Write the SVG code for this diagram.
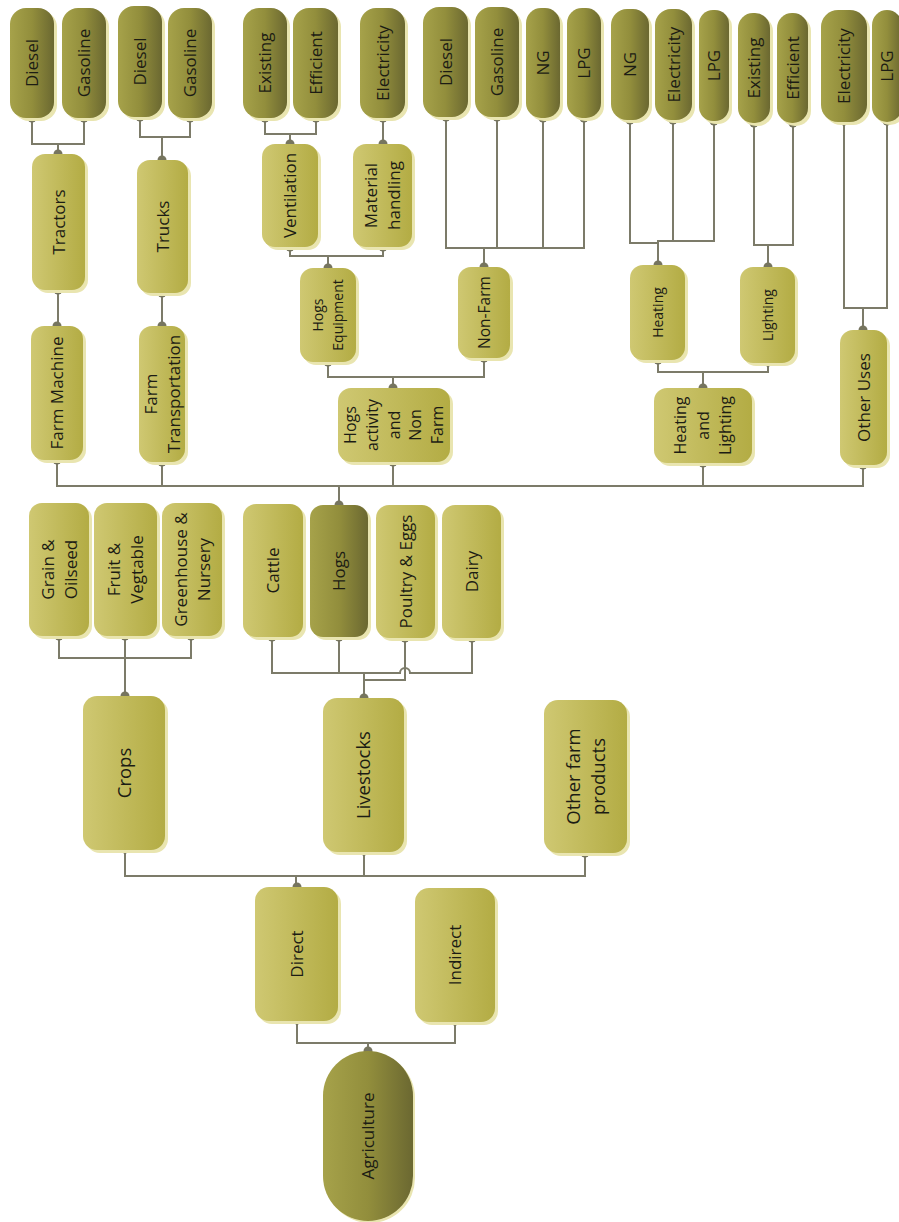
<svg xmlns="http://www.w3.org/2000/svg" width="899" height="1222" viewBox="0 0 899 1222">
<defs>
<linearGradient id="gl" x1="0" y1="0" x2="1" y2="0">
<stop offset="0" stop-color="#cfc872"/><stop offset="1" stop-color="#b3ac44"/>
</linearGradient>
<linearGradient id="gd" x1="0" y1="0" x2="1" y2="0">
<stop offset="0" stop-color="#a6a24a"/><stop offset="0.5" stop-color="#928e3c"/><stop offset="1" stop-color="#6b6831"/>
</linearGradient>
</defs>
<style>
.L{fill:url(#gl)}
.D{fill:url(#gd)}
.sh{fill:#e9e5b0}
text{font-family:"Open Sans","Liberation Sans",sans-serif;font-size:17px;fill:#1c1c14;text-anchor:middle}
.s14{font-size:14px}
.s15{font-size:15.5px}
.s16{font-size:16px}
.s18{font-size:18.5px}
#connectors path{fill:none;stroke:#7c7b69;stroke-width:2}
#connectors circle{fill:#76755f}
</style>
<rect width="899" height="1222" fill="#ffffff"/>

<g id="connectors">
<path d="M32 118V144H84V118M58 144V154"/>
<path d="M140 117V137H190V118M162 137V160"/>
<path d="M265 118V134H316V118M290 134V144"/>
<path d="M383 118V144"/>
<path d="M446 117V248H584V118M497 117V248M543 118V248M484 248V267"/>
<path d="M630 120V243H658V241H714V121M673 120V241M658 241V265"/>
<path d="M754 123V245H793V123M768 245V267"/>
<path d="M844 121V308H887V121M863 308V330"/>
<path d="M58 290V326"/>
<path d="M162 293V326"/>
<path d="M290 247V256H383V247M328 256V268"/>
<path d="M328 362V377H484V358M393 377V388"/>
<path d="M658 360V372H768V362M703 372V388"/>
<path d="M57 460V486H863V465M162 462V486M393 462V486M703 463V486M339 486V505"/>
<path d="M59 636V658H191V636M125 636V696"/>
<path d="M272 637V673H400A5 5 0 0 1 410 673H472V638M339 637V673M405 638V680H364M364 673V698"/>
<path d="M125 849V876H585V853M364 851V876M296 876V887"/>
<path d="M297 1020V1043H455V1021M368 1043V1051"/>
<circle cx="32" cy="118" r="4.5"/><circle cx="84" cy="118" r="4.5"/><circle cx="140" cy="117" r="4.5"/><circle cx="190" cy="118" r="4.5"/>
<circle cx="265" cy="118" r="4.5"/><circle cx="316" cy="118" r="4.5"/><circle cx="383" cy="118" r="4.5"/><circle cx="446" cy="117" r="4.5"/>
<circle cx="497" cy="117" r="4.5"/><circle cx="543" cy="118" r="4.5"/><circle cx="584" cy="118" r="4.5"/><circle cx="630" cy="120" r="4.5"/>
<circle cx="673" cy="120" r="4.5"/><circle cx="714" cy="121" r="4.5"/><circle cx="754" cy="123" r="4.5"/><circle cx="793" cy="123" r="4.5"/>
<circle cx="844" cy="121" r="4.5"/><circle cx="887" cy="121" r="4.5"/>
<circle cx="58" cy="154" r="4.5"/><circle cx="58" cy="290" r="4.5"/><circle cx="162" cy="160" r="4.5"/><circle cx="162" cy="293" r="4.5"/>
<circle cx="290" cy="144" r="4.5"/><circle cx="290" cy="247" r="4.5"/><circle cx="383" cy="144" r="4.5"/><circle cx="383" cy="247" r="4.5"/>
<circle cx="57" cy="326" r="4.5"/><circle cx="57" cy="460" r="4.5"/><circle cx="162" cy="326" r="4.5"/><circle cx="162" cy="462" r="4.5"/>
<circle cx="328" cy="268" r="4.5"/><circle cx="328" cy="362" r="4.5"/><circle cx="484" cy="267" r="4.5"/><circle cx="484" cy="358" r="4.5"/>
<circle cx="658" cy="265" r="4.5"/><circle cx="658" cy="360" r="4.5"/><circle cx="768" cy="267" r="4.5"/><circle cx="768" cy="362" r="4.5"/>
<circle cx="863" cy="330" r="4.5"/><circle cx="863" cy="465" r="4.5"/>
<circle cx="393" cy="388" r="4.5"/><circle cx="393" cy="462" r="4.5"/><circle cx="703" cy="388" r="4.5"/><circle cx="703" cy="463" r="4.5"/>
<circle cx="339" cy="505" r="4.5"/>
<circle cx="59" cy="636" r="4.5"/><circle cx="125" cy="636" r="4.5"/><circle cx="191" cy="636" r="4.5"/><circle cx="272" cy="637" r="4.5"/>
<circle cx="339" cy="637" r="4.5"/><circle cx="405" cy="638" r="4.5"/><circle cx="472" cy="638" r="4.5"/>
<circle cx="125" cy="696" r="4.5"/><circle cx="125" cy="849" r="4.5"/><circle cx="364" cy="698" r="4.5"/><circle cx="364" cy="851" r="4.5"/>
<circle cx="585" cy="853" r="4.5"/>
<circle cx="297" cy="887" r="4.5"/><circle cx="297" cy="1020" r="4.5"/><circle cx="455" cy="1021" r="4.5"/><circle cx="368" cy="1051" r="4.5"/>
</g>

<!-- top row -->
<g id="n-tr-diesel"><rect class="sh" x="13" y="11" width="44" height="110" rx="16"/><rect class="D" x="10" y="8" width="44" height="110" rx="16"/><text x="32" y="69" transform="rotate(-90 32 63)">Diesel</text></g>
<g id="n-tr-gasoline"><rect class="sh" x="65" y="11" width="44" height="110" rx="16"/><rect class="D" x="62" y="8" width="44" height="110" rx="16"/><text x="84" y="69" transform="rotate(-90 84 63)">Gasoline</text></g>
<g id="n-tk-diesel"><rect class="sh" x="121" y="9" width="44" height="111" rx="16"/><rect class="D" x="118" y="6" width="44" height="111" rx="16"/><text x="140" y="67.5" transform="rotate(-90 140 61.5)">Diesel</text></g>
<g id="n-tk-gasoline"><rect class="sh" x="171" y="11" width="44" height="110" rx="16"/><rect class="D" x="168" y="8" width="44" height="110" rx="16"/><text x="190" y="69" transform="rotate(-90 190 63)">Gasoline</text></g>
<g id="n-v-existing"><rect class="sh" x="246" y="11" width="44" height="110" rx="16"/><rect class="D" x="243" y="8" width="44" height="110" rx="16"/><text x="265" y="69" transform="rotate(-90 265 63)">Existing</text></g>
<g id="n-v-efficient"><rect class="sh" x="296" y="11" width="45" height="110" rx="16"/><rect class="D" x="293" y="8" width="45" height="110" rx="16"/><text x="315.5" y="69" transform="rotate(-90 315.5 63)">Efficient</text></g>
<g id="n-mh-electricity"><rect class="sh" x="363" y="11" width="45" height="110" rx="16"/><rect class="D" x="360" y="8" width="45" height="110" rx="16"/><text x="382.5" y="69" transform="rotate(-90 382.5 63)">Electricity</text></g>
<g id="n-nf-diesel"><rect class="sh" x="426" y="10" width="45" height="110" rx="16"/><rect class="D" x="423" y="7" width="45" height="110" rx="16"/><text x="445.5" y="68" transform="rotate(-90 445.5 62)">Diesel</text></g>
<g id="n-nf-gasoline"><rect class="sh" x="478" y="10" width="44" height="110" rx="16"/><rect class="D" x="475" y="7" width="44" height="110" rx="16"/><text x="497" y="68" transform="rotate(-90 497 62)">Gasoline</text></g>
<g id="n-nf-ng"><rect class="sh" x="529" y="11" width="34" height="110" rx="15"/><rect class="D" x="526" y="8" width="34" height="110" rx="15"/><text x="543" y="69" transform="rotate(-90 543 63)">NG</text></g>
<g id="n-nf-lpg"><rect class="sh" x="570" y="11" width="34" height="110" rx="15"/><rect class="D" x="567" y="8" width="34" height="110" rx="15"/><text x="584" y="69" transform="rotate(-90 584 63)">LPG</text></g>
<g id="n-h-ng"><rect class="sh" x="614" y="12" width="38" height="111" rx="16"/><rect class="D" x="611" y="9" width="38" height="111" rx="16"/><text x="630" y="70.5" transform="rotate(-90 630 64.5)">NG</text></g>
<g id="n-h-electricity"><rect class="sh" x="658" y="12" width="37" height="111" rx="16"/><rect class="D" x="655" y="9" width="37" height="111" rx="16"/><text x="673.5" y="70.5" transform="rotate(-90 673.5 64.5)">Electricity</text></g>
<g id="n-h-lpg"><rect class="sh" x="702" y="13" width="30" height="111" rx="14"/><rect class="D" x="699" y="10" width="30" height="111" rx="14"/><text x="714" y="71.5" transform="rotate(-90 714 65.5)">LPG</text></g>
<g id="n-l-existing"><rect class="sh" x="741" y="16" width="32" height="110" rx="15"/><rect class="D" x="738" y="13" width="32" height="110" rx="15"/><text x="754" y="74" transform="rotate(-90 754 68)">Existing</text></g>
<g id="n-l-efficient"><rect class="sh" x="780" y="16" width="31" height="110" rx="15"/><rect class="D" x="777" y="13" width="31" height="110" rx="15"/><text x="792.5" y="74" transform="rotate(-90 792.5 68)">Efficient</text></g>
<g id="n-o-electricity"><rect class="sh" x="824" y="13" width="46" height="112" rx="17"/><rect class="D" x="821" y="10" width="46" height="112" rx="17"/><text x="844" y="72" transform="rotate(-90 844 66)">Electricity</text></g>
<g id="n-o-lpg"><rect class="sh" x="875" y="13" width="30" height="112" rx="15"/><rect class="D" x="872" y="10" width="30" height="112" rx="15"/><text x="887" y="72" transform="rotate(-90 887 66)">LPG</text></g>

<!-- second level -->
<g id="n-tractors"><rect class="sh" x="35" y="157" width="53" height="136" rx="13"/><rect class="L" x="32" y="154" width="53" height="136" rx="13"/><text x="58.5" y="228" transform="rotate(-90 58.5 222)">Tractors</text></g>
<g id="n-trucks"><rect class="sh" x="140" y="163" width="51" height="133" rx="13"/><rect class="L" x="137" y="160" width="51" height="133" rx="13"/><text x="162.5" y="232.5" transform="rotate(-90 162.5 226.5)">Trucks</text></g>
<g id="n-ventilation"><rect class="sh" x="265" y="147" width="56" height="103" rx="13"/><rect class="L" x="262" y="144" width="56" height="103" rx="13"/><text x="290" y="201.5" transform="rotate(-90 290 195.5)">Ventilation</text></g>
<g id="n-material"><rect class="sh" x="356" y="147" width="59" height="103" rx="13"/><rect class="L" x="353" y="144" width="59" height="103" rx="13"/><text transform="rotate(-90 382.5 195.5)"><tspan x="382.5" y="190">Material</tspan><tspan x="382.5" dy="23">handling</tspan></text></g>

<!-- third level -->
<g id="n-farm-machine"><rect class="sh" x="34" y="329" width="52" height="134" rx="13"/><rect class="L" x="31" y="326" width="52" height="134" rx="13"/><text x="57" y="399" transform="rotate(-90 57 393)">Farm Machine</text></g>
<g id="n-farm-transport"><rect class="sh" x="142" y="329" width="46" height="136" rx="13"/><rect class="L" x="139" y="326" width="46" height="136" rx="13"/><text transform="rotate(-90 162 394)"><tspan x="162" y="388.5">Farm</tspan><tspan x="162" dy="23">Transportation</tspan></text></g>
<g id="n-hogs-equipment"><rect class="sh" x="303" y="271" width="56" height="94" rx="13"/><rect class="L" x="300" y="268" width="56" height="94" rx="13"/><text class="s14" transform="rotate(-90 328 315)"><tspan x="328" y="310">Hogs</tspan><tspan x="328" dy="20">Equipment</tspan></text></g>
<g id="n-non-farm"><rect class="sh" x="461" y="270" width="52" height="91" rx="13"/><rect class="L" x="458" y="267" width="52" height="91" rx="13"/><text class="s15" x="484" y="318" transform="rotate(-90 484 312.5)">Non-Farm</text></g>
<g id="n-heating"><rect class="sh" x="633" y="268" width="55" height="95" rx="13"/><rect class="L" x="630" y="265" width="55" height="95" rx="13"/><text class="s14" x="657.5" y="317.5" transform="rotate(-90 657.5 312.5)">Heating</text></g>
<g id="n-lighting"><rect class="sh" x="743" y="270" width="55" height="96" rx="13"/><rect class="L" x="740" y="267" width="55" height="96" rx="13"/><text class="s14" x="767.5" y="320" transform="rotate(-90 767.5 315)">Lighting</text></g>
<g id="n-other-uses"><rect class="sh" x="843" y="333" width="47" height="135" rx="13"/><rect class="L" x="840" y="330" width="47" height="135" rx="13"/><text x="863.5" y="403.5" transform="rotate(-90 863.5 397.5)">Other Uses</text></g>

<!-- fourth level -->
<g id="n-hogs-activity"><rect class="sh" x="341" y="391" width="112" height="74" rx="13"/><rect class="L" x="338" y="388" width="112" height="74" rx="13"/><text class="s16" transform="rotate(-90 394 425)"><tspan x="394" y="387.2">Hogs</tspan><tspan x="394" dy="21.7">activity</tspan><tspan x="394" dy="21.7">and</tspan><tspan x="394" dy="21.7">Non</tspan><tspan x="394" dy="21.7">Farm</tspan></text></g>
<g id="n-heat-light"><rect class="sh" x="657" y="391" width="98" height="75" rx="13"/><rect class="L" x="654" y="388" width="98" height="75" rx="13"/><text class="s16" transform="rotate(-90 703 425.5)"><tspan x="703" y="408.5">Heating</tspan><tspan x="703" dy="22.5">and</tspan><tspan x="703" dy="22.5">Lighting</tspan></text></g>

<!-- products row -->
<g id="n-grain"><rect class="sh" x="32" y="506" width="60" height="133" rx="13"/><rect class="L" x="29" y="503" width="60" height="133" rx="13"/><text transform="rotate(-90 59 569.5)"><tspan x="59" y="564">Grain &amp;</tspan><tspan x="59" dy="23">Oilseed</tspan></text></g>
<g id="n-fruit"><rect class="sh" x="97" y="506" width="63" height="133" rx="13"/><rect class="L" x="94" y="503" width="63" height="133" rx="13"/><text transform="rotate(-90 125.5 569.5)"><tspan x="125.5" y="564">Fruit &amp;</tspan><tspan x="125.5" dy="23">Vegtable</tspan></text></g>
<g id="n-greenhouse"><rect class="sh" x="165" y="506" width="60" height="133" rx="13"/><rect class="L" x="162" y="503" width="60" height="133" rx="13"/><text transform="rotate(-90 192 569.5)"><tspan x="192" y="564">Greenhouse &amp;</tspan><tspan x="192" dy="23">Nursery</tspan></text></g>
<g id="n-cattle"><rect class="sh" x="246" y="507" width="60" height="133" rx="13"/><rect class="L" x="243" y="504" width="60" height="133" rx="13"/><text x="273" y="576.5" transform="rotate(-90 273 570.5)">Cattle</text></g>
<g id="n-hogs"><rect class="sh" x="313" y="508" width="58" height="132" rx="13"/><rect class="D" x="310" y="505" width="58" height="132" rx="13"/><text x="339" y="577" transform="rotate(-90 339 571)">Hogs</text></g>
<g id="n-poultry"><rect class="sh" x="379" y="508" width="59" height="133" rx="13"/><rect class="L" x="376" y="505" width="59" height="133" rx="13"/><text x="405.5" y="577.5" transform="rotate(-90 405.5 571.5)">Poultry &amp; Eggs</text></g>
<g id="n-dairy"><rect class="sh" x="445" y="508" width="59" height="133" rx="13"/><rect class="L" x="442" y="505" width="59" height="133" rx="13"/><text x="471.5" y="577.5" transform="rotate(-90 471.5 571.5)">Dairy</text></g>

<!-- sectors -->
<g id="n-crops"><rect class="sh" x="86" y="699" width="82" height="154" rx="14"/><rect class="L" x="83" y="696" width="82" height="154" rx="14"/><text class="s18" x="124" y="779.5" transform="rotate(-90 124 773)">Crops</text></g>
<g id="n-livestocks"><rect class="sh" x="326" y="701" width="81" height="154" rx="14"/><rect class="L" x="323" y="698" width="81" height="154" rx="14"/><text class="s18" x="363.5" y="781.5" transform="rotate(-90 363.5 775)">Livestocks</text></g>
<g id="n-other-farm"><rect class="sh" x="547" y="703" width="83" height="153" rx="14"/><rect class="L" x="544" y="700" width="83" height="153" rx="14"/><text class="s18" transform="rotate(-90 585.5 776.5)"><tspan x="585.5" y="770.5">Other farm</tspan><tspan x="585.5" dy="25">products</tspan></text></g>

<!-- direct / indirect -->
<g id="n-direct"><rect class="sh" x="258" y="890" width="83" height="134" rx="14"/><rect class="L" x="255" y="887" width="83" height="134" rx="14"/><text x="296.5" y="960" transform="rotate(-90 296.5 954)">Direct</text></g>
<g id="n-indirect"><rect class="sh" x="418" y="891" width="80" height="134" rx="14"/><rect class="L" x="415" y="888" width="80" height="134" rx="14"/><text x="455" y="961" transform="rotate(-90 455 955)">Indirect</text></g>

<!-- root -->
<g id="n-agriculture"><rect class="sh" x="325" y="1053" width="90" height="170" rx="45"/><rect class="D" x="323" y="1051" width="90" height="170" rx="45"/><text x="368" y="1142" transform="rotate(-90 368 1136)">Agriculture</text></g>
</svg>
